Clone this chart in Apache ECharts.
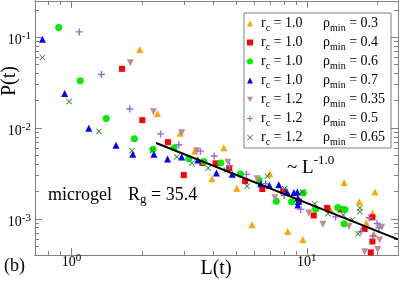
<!DOCTYPE html>
<html><head><meta charset="utf-8">
<script src="https://cdn.jsdelivr.net/npm/echarts@6/dist/echarts.min.js"></script>
<style>html,body{margin:0;padding:0;background:#fff}#c{width:399px;height:281px}</style>
</head><body><div id="c"></div>
<script>
// ---- data ----
const rcValues  = ['1.0', '1.0', '1.0', '1.0', '1.2', '1.2', '1.2'];
const rhoValues = ['0.3', '0.4', '0.6', '0.7', '0.35', '0.5', '0.65'];

const s1L = [1.95, 2.32, 2.90, 3.34, 3.95, 4.44, 5.04, 5.85, 6.96, 8.30, 9.62, 12.6, 14.4, 16.7, 17.9, 19.0, 19.3, 19.5];
const s1P = [0.0731, 0.01445, 0.00877, 0.00556, 0.00277, 0.00607, 0.00217, 0.000859, 0.00313, 0.000725, 0.000592, 0.001265, 0.00252, 0.001538, 0.000904, 0.001152, 0.000681, 0.00198];

const s2L = [1.64, 2.00, 2.57, 3.00, 3.60, 4.10, 4.68, 5.47, 6.47, 7.93, 9.25, 10.7, 12.2, 13.9, 17.6, 19.0, 19.0, 18.7];
const s2P = [0.0448, 0.0122, 0.00698, 0.00303, 0.00412, 0.00408, 0.00362, 0.0026, 0.00213, 0.00201, 0.00156, 0.00109, 0.00132, 0.00127, 0.000773, 0.00104, 0.000563, 0.000427];

const s3L = [0.883, 1.09, 1.405, 1.85, 2.22, 2.73, 3.15, 3.65, 4.31, 5.22, 6.27, 7.42, 8.61, 9.66, 10.9, 13.55, 14.5, 14.4];
const s3P = [0.1275, 0.0331, 0.01275, 0.00763, 0.00585, 0.00607, 0.0046, 0.00427, 0.00412, 0.00312, 0.00268, 0.00156, 0.00154, 0.00193, 0.00128, 0.00133, 0.00127, 0.000883];

const s4L = [0.753, 0.936, 1.185, 1.546, 1.823, 2.24, 2.56, 2.94, 3.44, 4.13, 4.82, 6.37, 6.93, 7.60, 8.22, 8.81, 9.11, 9.16, 9.2, 9.16];
const s4P = [0.0951, 0.024, 0.00995, 0.00647, 0.00515, 0.00515, 0.00457, 0.00478, 0.00445, 0.0032, 0.0031, 0.00243, 0.00235, 0.00237, 0.0020, 0.00195, 0.00197, 0.0017, 0.00155, 0.00142];

const s5L = [1.78, 2.23, 2.94, 3.40, 4.62, 6.15, 7.31, 10.2, 11.7, 15.1, 17.6, 20.0, 20.4, 20.8];
const s5P = [0.0522, 0.0151, 0.00888, 0.00563, 0.00419, 0.00276, 0.00171, 0.00116, 0.000873, 0.000823, 0.000434, 0.00046, 0.000585, 0.000807];

const s6L = [1.08, 1.34, 1.77, 2.39, 2.86, 3.53, 4.04, 4.70, 5.54, 6.69, 8.01, 9.43, 13.25, 17.0, 18.4, 19.9, 20.25, 19.1];
const s6P = [0.1143, 0.0388, 0.0162, 0.00861, 0.00655, 0.00556, 0.00492, 0.00385, 0.00309, 0.00244, 0.00181, 0.00127, 0.00105, 0.000725, 0.00103, 0.000888, 0.000796, 0.000647];

const s7L = [0.753, 0.978, 1.31, 1.81, 2.21, 2.80, 3.25, 3.81, 4.55, 5.58, 6.80, 8.06, 9.59, 10.8, 12.3, 14.3, 15.6, 16.5, 16.8, 16.8];
const s7P = [0.0597, 0.0196, 0.00918, 0.00563, 0.00563, 0.0048, 0.0041, 0.00362, 0.00342, 0.00229, 0.00295, 0.00215, 0.00198, 0.00146, 0.00114, 0.0011, 0.00098, 0.000684, 0.00132, 0.0012];

// fitted power law ~ L^-1.0, end points
const fitL = [2.29, 24.4];
const fitP = [0.00684, 0.000595];

// axis ticks
const xMajor = [1, 10];
const xMinor = [0.7, 0.8, 0.9, 2, 3, 4, 5, 6, 7, 8, 9, 20];
const yMajor = [0.001, 0.01, 0.1];
const yMinor = [0.0004, 0.0005, 0.0006, 0.0007, 0.0008, 0.0009, 0.002, 0.003, 0.004, 0.005, 0.006, 0.007, 0.008, 0.009,
                0.02, 0.03, 0.04, 0.05, 0.06, 0.07, 0.08, 0.09, 0.2];

// ---- drawing ----
const FONT = 'Liberation Serif';
const FR = '#808080';
const xMin = 0.7, xMax = 24.4, yMin = 0.0004, yMax = 0.25;

const supRich = {
  b: {fontSize: 14, fontFamily: FONT, color: '#000'},
  sup: {fontSize: 11, fontFamily: FONT, color: '#000', padding: [0, 0, 8, 0]}
};
const expFmt = v => '{b|10}{sup|' + Math.round(Math.log10(v)) + '}';

function mkAxis(kind, pos, ticks, len, labels) {
  const isX = kind === 'x';
  return {
    type: 'log', logBase: 10, position: pos,
    min: isX ? xMin : yMin, max: isX ? xMax : yMax,
    axisLine: {show: true, onZero: false, lineStyle: {color: FR, width: 1}},
    axisTick: {show: true, inside: true, length: len, customValues: ticks, lineStyle: {color: FR, width: 1}},
    axisLabel: labels ? {show: true, customValues: labels, formatter: expFmt, rich: supRich,
                         margin: isX ? -2 : 4, padding: isX ? 0 : [6, 0, 0, 0]}
                      : {show: false},
    splitLine: {show: false}, minorTick: {show: false}, minorSplitLine: {show: false}
  };
}

const plusPath = 'path://M2,0H3V2H5V3H3V5H2V3H0V2H2Z';
const crossPath = 'path://M0,1L1,0L5,4L9,0L10,1L6,5L10,9L9,10L5,6L1,10L0,9L4,5Z';
const downTriPath = 'path://M0,0L10,0L5,9Z';
const specs = [
  {L: s1L, P: s1P, color: '#ffa500', symbol: 'triangle', size: 7},
  {L: s2L, P: s2P, color: '#ff0000', symbol: 'rect', size: 6},
  {L: s3L, P: s3P, color: '#00ee00', symbol: 'circle', size: 7},
  {L: s4L, P: s4P, color: '#0000ff', symbol: 'triangle', size: 7},
  {L: s5L, P: s5P, color: '#bc8f8f', symbol: downTriPath, size: 7},
  {L: s6L, P: s6P, color: '#9a66d8', symbol: plusPath, size: 7},
  {L: s7L, P: s7P, color: '#2a8a2a', symbol: crossPath, size: 6}
];
const names = rcValues.map((r, i) => 'rc' + r + '_rho' + rhoValues[i]);

const series = specs.map((s, i) => ({
  name: names[i], type: 'scatter', xAxisIndex: 0, yAxisIndex: 0,
  symbol: s.symbol, symbolSize: s.size,
  itemStyle: {color: s.color, opacity: 1},
  data: s.L.map((l, k) => [l, s.P[k]]),
  z: 3
}));
series.push({
  type: 'line', xAxisIndex: 0, yAxisIndex: 0, symbol: 'none', silent: true,
  lineStyle: {color: '#000', width: 2}, data: fitL.map((l, k) => [l, fitP[k]]), z: 4
});

const legendFmt = name => {
  const i = names.indexOf(name);
  return '{t|r}{sub|c}{w| = ' + rcValues[i] + '}{t|ρ}{sub|min}{t| = ' + rhoValues[i] + '}';
};

const chart = echarts.init(document.getElementById('c'), null, {renderer: 'canvas'});
chart.setOption({
  animation: false,
  backgroundColor: '#fff',
  grid: {left: 35, top: 1, width: 363, height: 254, containLabel: false, outerBoundsMode: 'none'},
  xAxis: [
    mkAxis('x', 'bottom', xMajor, 7, xMajor),
    mkAxis('x', 'bottom', xMinor, 4, null),
    mkAxis('x', 'top', xMajor, 7, null),
    mkAxis('x', 'top', xMinor, 4, null)
  ],
  yAxis: [
    mkAxis('y', 'left', yMajor, 7, yMajor),
    mkAxis('y', 'left', yMinor, 4, null),
    mkAxis('y', 'right', yMajor, 7, null),
    mkAxis('y', 'right', yMinor, 4, null)
  ],
  legend: {
    show: true, orient: 'vertical', left: 244, top: 13,
    padding: [1, 6, 1, 3], itemGap: 0, itemWidth: 6, itemHeight: 6,
    borderColor: FR, borderWidth: 1, backgroundColor: '#fff',
    data: names.map((n, i) => ({name: n, icon: specs[i].symbol})),
    formatter: legendFmt,
    textStyle: {
      padding: [0, 0, 0, 3],
      rich: {
        t: {fontSize: 14, fontFamily: FONT, color: '#000', lineHeight: 18},
        w: {fontSize: 14, fontFamily: FONT, color: '#000', lineHeight: 18, width: 53, align: 'left'},
        sub: {fontSize: 10, fontFamily: FONT, color: '#000', lineHeight: 9, padding: [9, 0, 0, 0]}
      }
    }
  },
  graphic: [
    {type: 'text', x: 10, y: 81, rotation: Math.PI / 2,
     style: {text: 'P(t)', fontSize: 20, fontFamily: FONT, fill: '#000', align: 'center', verticalAlign: 'middle', textAlign: 'center', textVerticalAlign: 'middle'}},
    {type: 'text', x: 216, y: 269,
     style: {text: 'L(t)', fontSize: 20, fontFamily: FONT, fill: '#000', align: 'center', verticalAlign: 'middle', textAlign: 'center', textVerticalAlign: 'middle'}},
    {type: 'text', x: 4, y: 266,
     style: {text: '(b)', fontSize: 18, fontFamily: FONT, fill: '#000', align: 'left', verticalAlign: 'middle', textAlign: 'left', textVerticalAlign: 'middle'}},
    {type: 'text', x: 48, y: 195,
     style: {text: 'microgel', fontSize: 18, fontFamily: FONT, fill: '#000', align: 'left', verticalAlign: 'middle', textAlign: 'left', textVerticalAlign: 'middle'}},
    {type: 'text', x: 128, y: 195,
     style: {text: '{t|R}{s|g}{t| = 35.4}', fill: '#000', align: 'left', verticalAlign: 'middle', textAlign: 'left', textVerticalAlign: 'middle',
       rich: {t: {fontSize: 18, fontFamily: FONT, fill: '#000', lineHeight: 20},
              s: {fontSize: 13, fontFamily: FONT, fill: '#000', lineHeight: 10, padding: [10, 0, 0, 0]}}}},
    {type: 'text', x: 287, y: 168,
     style: {text: '{t|~ L}{s|-1.0}', fill: '#000', align: 'left', verticalAlign: 'middle', textAlign: 'left', textVerticalAlign: 'middle',
       rich: {t: {fontSize: 19, fontFamily: FONT, fill: '#000', lineHeight: 20},
              s: {fontSize: 13, fontFamily: FONT, fill: '#000', lineHeight: 10, padding: [0, 0, 14, 0]}}}}
  ],
  series: series
});
</script></body></html>
